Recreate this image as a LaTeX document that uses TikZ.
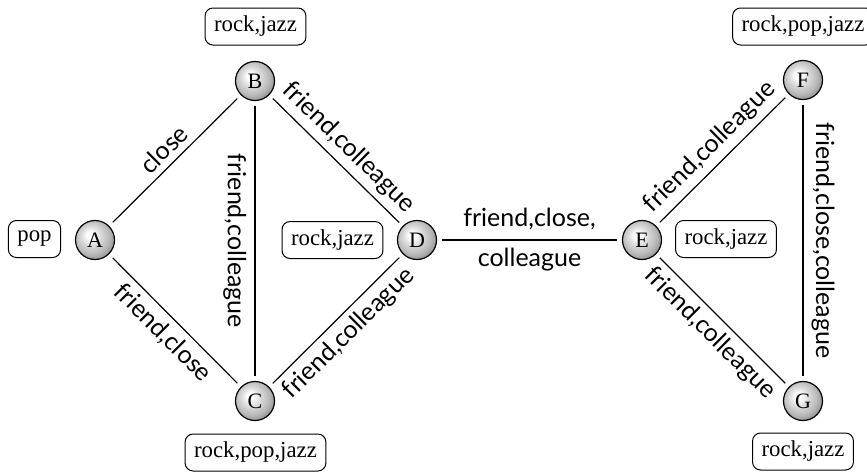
\documentclass[tikz,border=0pt]{standalone}
\usepackage{fontspec}
\setmainfont{Liberation Serif}
\newfontfamily\edgefont{Lato}
\pgfdeclareradialshading{lightball}{\pgfqpoint{-7bp}{7bp}}{color(0bp)=(white); color(4bp)=(white); color(13bp)=(gray!30); color(22bp)=(gray!55); color(30bp)=(gray!90); color(50bp)=(gray)}
\begin{document}
\begin{tikzpicture}[x=0.5pt,y=-0.5pt,
  vertex/.style={circle,draw,line width=0.6pt,shading=lightball,minimum size=19.5pt,inner sep=0pt,font=\fontsize{11}{13}\selectfont},
  tagbox/.style={draw,rounded corners=4pt,line width=0.5pt,minimum height=18.5pt,inner xsep=4.5pt,font=\fontsize{11.4}{13}\selectfont},
  conn/.style={line width=0.6pt,shorten <=2.5pt,shorten >=2.5pt},
  elab/.style={font=\edgefont\fontsize{12.5}{20}\selectfont,inner sep=3pt}]
\useasboundingbox (0,0) rectangle (867,472);
\node[vertex] (A) at (95,240) {A};
\node[vertex] (B) at (255,81) {B};
\node[vertex] (C) at (255,401) {C};
\node[vertex] (D) at (417,240) {D};
\node[vertex] (E) at (642,240) {E};
\node[vertex] (F) at (803,80) {F};
\node[vertex] (G) at (803,401) {G};
\node[tagbox] (tA) at (34.5,239) {pop};
\node[tagbox] (tB) at (255.5,26.5) {rock,jazz};
\node[tagbox] (tD) at (332.5,240) {rock,jazz};
\node[tagbox] (tC) at (255.5,452.5) {rock,pop,jazz};
\node[tagbox] (tF) at (803,26.5) {rock,pop,jazz};
\node[tagbox] (tE) at (726,239) {rock,jazz};
\node[tagbox] (tG) at (803,451.5) {rock,jazz};
\draw[conn] (A) -- node[elab,sloped,above] (lab) {close} (B);
\draw[conn] (A) -- node[elab,sloped,below] (lac) {friend,close} (C);
\draw[conn] (B) -- node[elab,rotate=-90,anchor=north,inner sep=4pt] (lbc) {friend,colleague} (C);
\draw[conn] (B) -- node[elab,sloped,above] (lbd) {friend,colleague} (D);
\draw[conn] (C) -- node[elab,sloped,below] (lcd) {friend,colleague} (D);
\draw[conn] (D) -- node[elab,align=center] (lde) {friend,close,\\colleague} (E);
\draw[conn] (E) -- node[elab,sloped,above] (lef) {friend,colleague} (F);
\draw[conn] (E) -- node[elab,sloped,below] (leg) {friend,colleague} (G);
\draw[conn] (F) -- node[elab,rotate=-90,anchor=south,inner sep=4pt] (lfg) {friend,close,colleague} (G);
\end{tikzpicture}
\end{document}
